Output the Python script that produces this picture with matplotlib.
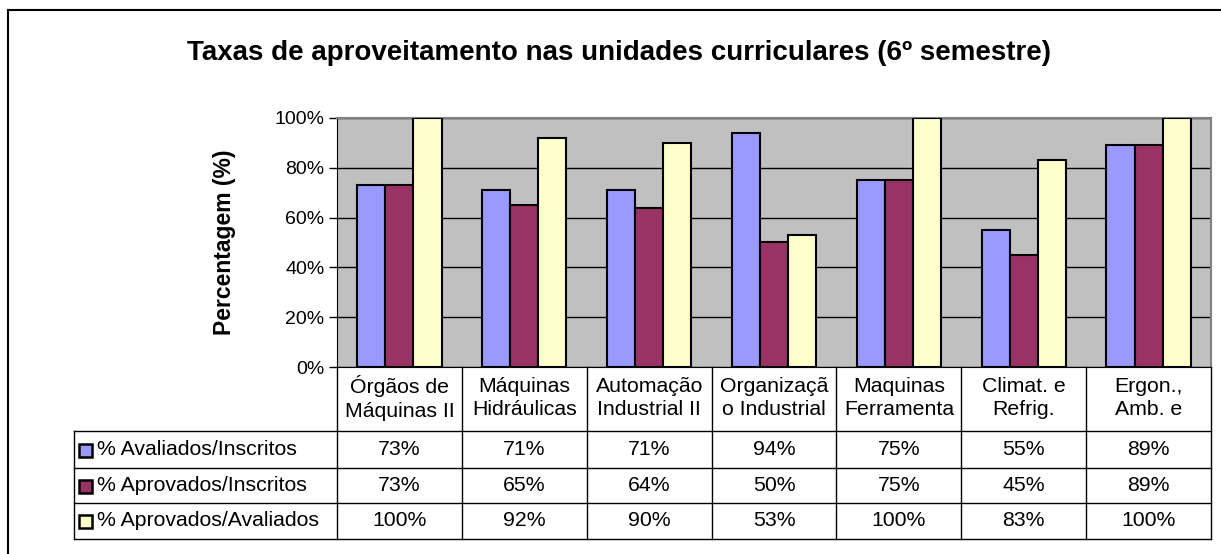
import matplotlib.pyplot as plt
from matplotlib.lines import Line2D
from matplotlib.patches import Rectangle

plt.rcParams['font.family'] = ['Liberation Sans', 'DejaVu Sans']

categories = ["Órgãos de\nMáquinas II", "Máquinas\nHidráulicas", "Automação\nIndustrial II",
              "Organizaçã\no Industrial", "Maquinas\nFerramenta", "Climat. e\nRefrig.", "Ergon.,\nAmb. e"]
series_names = ["% Avaliados/Inscritos", "% Aprovados/Inscritos", "% Aprovados/Avaliados"]
avaliados_inscritos = [73, 71, 71, 94, 75, 55, 89]
aprovados_inscritos = [73, 65, 64, 50, 75, 45, 89]
aprovados_avaliados = [100, 92, 90, 53, 100, 83, 100]
series = [avaliados_inscritos, aprovados_inscritos, aprovados_avaliados]
colors = ["#9999FF", "#993366", "#FFFFCC"]

W, H = 1221, 554
fig = plt.figure(figsize=(W / 100, H / 100), dpi=100)
fig.patch.set_facecolor("white")

# plot area in pixels
L, R, T, B = 337, 1211, 118, 367
ax = fig.add_axes([L / W, 1 - B / H, (R - L) / W, (B - T) / H])
ax.set_facecolor("#C0C0C0")

n = len(categories)
bw = 0.225
for i, (vals, c) in enumerate(zip(series, colors)):
    xs = [k + (i - 1) * bw for k in range(n)]
    ax.bar(xs, vals, width=bw, color=c, edgecolor="black", linewidth=1.5, zorder=3)

ax.set_xlim(-0.5, n - 0.5)
ax.set_ylim(0, 100)
ax.set_yticks(range(0, 101, 20))
ax.set_yticklabels([f"{v}%" for v in range(0, 101, 20)], fontsize=14)
ax.tick_params(axis='y', length=6, width=1, direction='out', pad=3)
ax.set_xticks([])
ax.yaxis.grid(True, color="black", linewidth=1, zorder=1)
ax.set_axisbelow(True)
for s in ["top", "right"]:
    ax.spines[s].set_color("#808080")
    ax.spines[s].set_linewidth(1.5)
ax.spines["left"].set_color("black")
ax.spines["bottom"].set_color("black")
ax.set_ylabel("Percentagem (%)", fontsize=16.5, fontweight="bold", labelpad=28)

fig.text(619 / W, 1 - 53 / H, "Taxas de aproveitamento nas unidades curriculares (6º semestre)",
         ha="center", va="center", fontsize=20, fontweight="bold")

# data table below axis (pixel coordinates)
def fx(px):
    return px / W

def fy(py):
    return 1 - py / H

col_w = (R - L) / n
rows = [431, 468, 503, 539]
lc = "black"
lw = 1
tfs = 15.3
# vertical lines between categories
for k in range(n + 1):
    x = L + k * col_w
    fig.add_artist(Line2D([fx(x), fx(x)], [fy(B), fy(rows[-1])], color=lc, lw=lw))
# left column border
fig.add_artist(Line2D([fx(74), fx(74)], [fy(rows[0]), fy(rows[-1])], color=lc, lw=lw))
for y in rows:
    fig.add_artist(Line2D([fx(74), fx(R)], [fy(y), fy(y)], color=lc, lw=lw))

for k, cat in enumerate(categories):
    fig.text(fx(L + (k + 0.5) * col_w), fy((B + rows[0]) / 2 - 1), cat, ha="center", va="center",
             fontsize=tfs, linespacing=1.3)

tops = [rows[0], rows[1], rows[2]]
bots = [rows[1], rows[2], rows[3]]
for r, (name, vals, c) in enumerate(zip(series_names, series, colors)):
    yc = (tops[r] + bots[r]) / 2
    fig.add_artist(Rectangle((fx(79), fy(yc + 7)), 13 / W, 13 / H, facecolor=c,
                             edgecolor="black", lw=1.8))
    fig.text(fx(97), fy(yc), name, ha="left", va="center", fontsize=tfs)
    for k, v in enumerate(vals):
        fig.text(fx(L + (k + 0.5) * col_w), fy(yc), f"{v}%", ha="center", va="center",
                 fontsize=tfs)

# outer chart frame
fig.add_artist(Line2D([fx(8), 1], [fy(10), fy(10)], color="black", lw=1.5))
fig.add_artist(Line2D([fx(8), fx(8)], [fy(10), 0], color="black", lw=1.5))

fig.savefig("out.png", dpi=100)
